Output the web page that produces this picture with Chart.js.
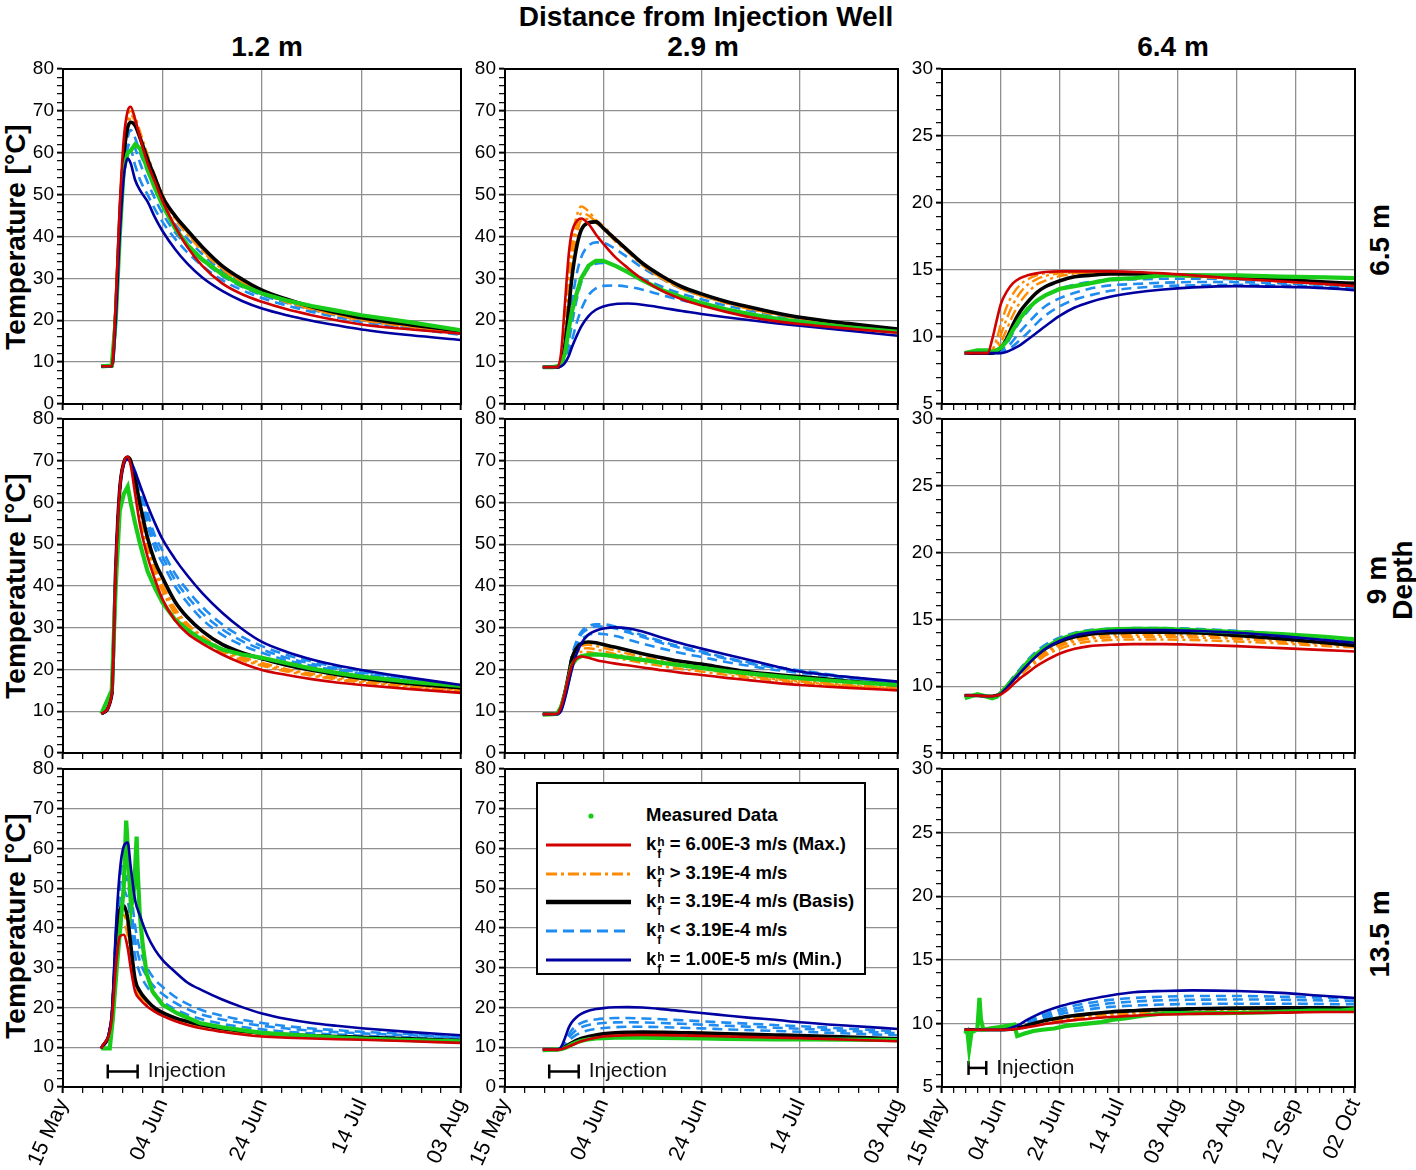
<!DOCTYPE html>
<html>
<head>
<meta charset="utf-8">
<script src="https://cdn.jsdelivr.net/npm/chart.js@4.4.0/dist/chart.umd.min.js"></script>
<style>
  body { margin: 0; background: #fff; width: 1416px; height: 1170px; position: relative; overflow: hidden;
         font-family: "Liberation Sans", Arial, sans-serif; }
  canvas { position: absolute; }
  .t { position: absolute; font-weight: bold; color: #000; white-space: nowrap; transform: translate(-50%, -50%); font-size: 28px; }
  .rot { transform: translate(-50%, -50%) rotate(-90deg); }
  .side { text-align: center; line-height: 26px; }
  #legend { position: absolute; left: 536px; top: 782px; width: 326px; height: 189px; border: 2px solid #000; background: #fff; z-index: 5; }
  #legend .row { position: absolute; left: 0; height: 28px; width: 100%; }
  #legend svg { position: absolute; left: 8px; top: 9px; }
  #legend .lab { position: absolute; left: 108px; top: 3px; font-weight: bold; font-size: 18.5px; white-space: nowrap; }
  .ss { display: inline-block; vertical-align: -8px; font-size: 12px; line-height: 12px; margin: 0 5px 0 1px; }
  .ss i { display: block; font-style: normal; }
</style>
</head>
<body>
<div class="t" style="left:706px;top:17px">Distance from Injection Well</div>
<div class="t" style="left:267px;top:47px">1.2 m</div>
<div class="t" style="left:703px;top:47px">2.9 m</div>
<div class="t" style="left:1173px;top:47px">6.4 m</div>

<div class="t rot" style="left:16px;top:237px">Temperature [°C]</div>
<div class="t rot" style="left:16px;top:586px">Temperature [°C]</div>
<div class="t rot" style="left:16px;top:926px">Temperature [°C]</div>

<div class="t rot" style="left:1380px;top:240px">6.5 m</div>
<div class="t rot side" style="left:1390px;top:580px">9 m<br>Depth</div>
<div class="t rot" style="left:1380px;top:934px">13.5 m</div>

<div id="legend">
  <div class="row" style="top:17px">
    <svg width="90" height="12"><circle cx="45" cy="6" r="2.6" fill="#19cc19"/></svg>
    <span class="lab">Measured Data</span>
  </div>
  <div class="row" style="top:46px">
    <svg width="90" height="12"><line x1="0" y1="6" x2="85" y2="6" stroke="#d00000" stroke-width="3"/></svg>
    <span class="lab">k<span class="ss"><i>h</i><i>f</i></span>= 6.00E-3 m/s (Max.)</span>
  </div>
  <div class="row" style="top:75px">
    <svg width="90" height="12"><line x1="0" y1="6" x2="85" y2="6" stroke="#ff8a00" stroke-width="3" stroke-dasharray="11 4 3 4"/></svg>
    <span class="lab">k<span class="ss"><i>h</i><i>f</i></span>&gt; 3.19E-4 m/s</span>
  </div>
  <div class="row" style="top:103px">
    <svg width="90" height="12"><line x1="0" y1="6" x2="85" y2="6" stroke="#000" stroke-width="4.5"/></svg>
    <span class="lab">k<span class="ss"><i>h</i><i>f</i></span>= 3.19E-4 m/s (Basis)</span>
  </div>
  <div class="row" style="top:132px">
    <svg width="90" height="12"><line x1="0" y1="6" x2="85" y2="6" stroke="#1e8cf0" stroke-width="3" stroke-dasharray="11 6"/></svg>
    <span class="lab">k<span class="ss"><i>h</i><i>f</i></span>&lt; 3.19E-4 m/s</span>
  </div>
  <div class="row" style="top:161px">
    <svg width="90" height="12"><line x1="0" y1="6" x2="85" y2="6" stroke="#0000a0" stroke-width="3"/></svg>
    <span class="lab">k<span class="ss"><i>h</i><i>f</i></span>= 1.00E-5 m/s (Min.)</span>
  </div>
</div>

<script>
// days after 15 May
const daysA = [7.7, 9.8, 10.6, 11.4, 12.2, 13.0, 13.6, 14.5, 15.5, 17, 18.5, 20, 22.5, 25, 28, 32, 36, 40, 45, 50, 55, 60, 70, 80];
const daysB = [7.7, 12, 15.5, 17, 18.5, 20, 22, 24, 26.5, 29, 32, 35, 40, 45, 50, 57, 65, 75, 85, 100, 115, 130, 140];
const dateTicksA = ['15 May', '04 Jun', '24 Jun', '14 Jul', '03 Aug'];
const dateTicksB = ['15 May', '04 Jun', '24 Jun', '14 Jul', '03 Aug', '23 Aug', '12 Sep', '02 Oct'];
const injDays = [9, 15];
const injLevelA = [3.9, 3.9];
const injLevelB = [6.5, 6.5];

// 1.2 m / 6.5 m
const p1Max   = [9, 9, 24, 47, 63, 70, 71, 68, 63.5, 57.5, 53, 48.5, 42.5, 37.5, 33, 28.8, 26.2, 24.4, 22.6, 21.2, 20, 19, 17.8, 16.8];
const p1Hi1   = [9, 9, 23, 46, 61, 68.5, 70, 68.5, 65, 59.5, 54.5, 50, 44.8, 41, 37, 32.6, 29.4, 26.9, 24.7, 22.9, 21.5, 20.3, 18.6, 17.2];
const p1Hi2   = [9, 9, 23, 45, 60, 67.5, 69, 67.5, 64, 59, 54, 49.5, 44.5, 40.8, 36.8, 32.4, 29.2, 26.7, 24.5, 22.7, 21.3, 20.1, 18.5, 17.1];
const p1Hi3   = [9, 9, 22, 44.5, 59.5, 67, 68, 67, 63.5, 58.5, 53.5, 49, 44.2, 40.5, 36.5, 32.2, 29, 26.5, 24.3, 22.6, 21.2, 20, 18.4, 17];
const p1Basis = [9, 9, 22, 44, 59, 66, 67.3, 66.5, 63.5, 58.5, 54, 49.5, 45, 41.5, 37.5, 33, 29.8, 27.2, 25, 23.2, 21.8, 20.6, 18.9, 17.4];
const p1Lo1   = [9, 9, 22, 43, 57, 63.5, 65.4, 63.5, 60, 55.5, 51.5, 47.5, 43, 39.5, 35.8, 31.8, 28.9, 26.7, 24.6, 22.9, 21.5, 20.3, 18.6, 17.1];
const p1Lo2   = [9, 9, 21, 42, 55, 61, 62.5, 61, 57.5, 53, 49, 45.5, 41, 37.8, 34.3, 30.6, 28, 26, 24.1, 22.5, 21.1, 20, 18.3, 16.8];
const p1Lo3   = [9, 9, 21, 41, 54, 59.5, 60.5, 57, 53.5, 50, 46.5, 43.5, 39.5, 36.2, 33, 29.6, 27.2, 25.3, 23.5, 22, 20.7, 19.6, 18, 16.5];
const p1Min   = [9, 9, 20, 40, 54, 58.6, 57.5, 53.5, 51, 48.3, 44.5, 41.3, 37, 33.5, 30.2, 27, 24.6, 22.8, 21.2, 19.9, 18.8, 17.8, 16.4, 15.3];
const p1Meas  = [9, 9.2, 20, 40, 56, 60, 60.5, 62, 61, 56, 51.5, 47.5, 42, 38, 34.5, 31, 28.3, 26.4, 24.7, 23.4, 22.3, 21.2, 19.5, 17.6];

// 2.9 m / 6.5 m
const p2Max   = [8.8, 8.8, 8.8, 12, 24, 36, 41, 43.5, 44.3, 43, 40.5, 38.3, 35, 32.5, 29.8, 27, 25, 23.5, 22, 20.7, 19.8, 19.1, 18, 17];
const p2Hi1   = [8.8, 8.8, 8.8, 11, 20, 32, 39, 44.5, 47.2, 46, 44, 42.5, 39.5, 36.7, 33.5, 30.2, 27.8, 26, 24.3, 22.8, 21.6, 20.6, 19.1, 17.8];
const p2Hi2   = [8.8, 8.8, 8.8, 10.5, 18, 29, 36, 42, 45.5, 45, 43.5, 42, 39, 36.5, 33.3, 30, 27.6, 25.9, 24.2, 22.7, 21.5, 20.5, 19, 17.7];
const p2Hi3   = [8.8, 8.8, 8.8, 10, 16, 26, 33, 39.5, 43.8, 44.2, 43.3, 41.8, 38.8, 36.3, 33.1, 29.9, 27.5, 25.8, 24.1, 22.6, 21.4, 20.4, 18.9, 17.6];
const p2Basis = [8.8, 8.8, 8.8, 9.5, 14, 23, 30, 37, 41.5, 43.3, 43.5, 42, 39.3, 36.7, 33.6, 30.5, 28, 26.3, 24.5, 23.1, 21.8, 20.7, 19.2, 17.9];
const p2Lo1   = [8.8, 8.8, 8.8, 9.3, 12, 18, 24, 30.5, 35, 37.8, 38.6, 38.5, 37, 35, 32.5, 29.8, 27.5, 25.9, 24.2, 22.8, 21.6, 20.5, 19, 17.7];
const p2Lo2   = [8.8, 8.8, 8.8, 9.2, 11, 15, 19, 24.5, 29, 32.5, 33.5, 33.7, 33, 31.8, 30, 28, 26.3, 25, 23.5, 22.3, 21.2, 20.2, 18.8, 17.5];
const p2Lo3   = [8.8, 8.8, 8.8, 9.1, 10, 12.5, 15, 19, 22.5, 26, 27.6, 28.2, 28.3, 28, 27.3, 26, 24.8, 23.8, 22.6, 21.6, 20.6, 19.8, 18.5, 17.3];
const p2Min   = [8.8, 8.8, 8.8, 9, 9.8, 11.5, 13.5, 16, 18.5, 21, 22.5, 23.3, 23.9, 24, 23.7, 23, 22.2, 21.5, 20.7, 20, 19.3, 18.7, 17.5, 16.3];
const p2Meas  = [8.8, 8.8, 9, 9.5, 12, 18, 22, 26, 30, 33, 34.2, 34.2, 33, 31.5, 29.5, 27.2, 25.5, 24.1, 22.6, 21.4, 20.4, 19.6, 18.3, 17.2];

// 6.4 m / 6.5 m
const p3Max   = [8.8, 8.8, 8.8, 9.8, 11.2, 12.5, 13.4, 14, 14.4, 14.6, 14.75, 14.85, 14.9, 14.9, 14.9, 14.9, 14.85, 14.75, 14.6, 14.35, 14.15, 13.95, 13.8];
const p3Hi1   = [8.8, 8.8, 8.8, 9.0, 9.8, 11, 12.3, 13.2, 13.9, 14.3, 14.6, 14.75, 14.85, 14.85, 14.85, 14.85, 14.8, 14.7, 14.55, 14.35, 14.15, 13.95, 13.8];
const p3Hi2   = [8.8, 8.8, 8.8, 8.9, 9.3, 10.2, 11.4, 12.4, 13.3, 13.9, 14.3, 14.55, 14.75, 14.8, 14.8, 14.8, 14.75, 14.65, 14.5, 14.35, 14.15, 13.95, 13.8];
const p3Hi3   = [8.8, 8.8, 8.8, 8.85, 9.0, 9.6, 10.6, 11.6, 12.6, 13.3, 13.9, 14.2, 14.55, 14.7, 14.75, 14.75, 14.75, 14.65, 14.55, 14.4, 14.2, 14.0, 13.85];
const p3Basis = [8.8, 8.8, 8.8, 8.8, 8.9, 9.2, 9.9, 10.9, 11.9, 12.6, 13.3, 13.75, 14.2, 14.5, 14.6, 14.7, 14.7, 14.65, 14.6, 14.5, 14.3, 14.1, 14.0];
const p3Lo1   = [8.8, 8.8, 8.8, 8.8, 8.85, 9.0, 9.5, 10.3, 11.2, 11.9, 12.6, 13.1, 13.6, 13.9, 14.1, 14.25, 14.3, 14.35, 14.35, 14.3, 14.2, 14.05, 13.95];
const p3Lo2   = [8.8, 8.8, 8.8, 8.8, 8.8, 8.9, 9.2, 9.7, 10.4, 11.0, 11.7, 12.3, 12.9, 13.3, 13.6, 13.85, 13.95, 14.05, 14.1, 14.1, 14.0, 13.9, 13.8];
const p3Lo3   = [8.8, 8.8, 8.8, 8.8, 8.8, 8.85, 9.0, 9.3, 9.8, 10.3, 11.0, 11.6, 12.3, 12.8, 13.1, 13.45, 13.65, 13.8, 13.85, 13.9, 13.85, 13.75, 13.65];
const p3Min   = [8.8, 8.8, 8.8, 8.8, 8.8, 8.8, 8.9, 9.1, 9.4, 9.8, 10.3, 10.8, 11.6, 12.2, 12.6, 13.0, 13.3, 13.55, 13.7, 13.8, 13.75, 13.65, 13.5];
const p3Meas  = [8.8, 9.0, 9.0, 8.9, 9.0, 9.2, 9.7, 10.5, 11.4, 12.1, 12.7, 13.1, 13.6, 13.8, 14.0, 14.3, 14.4, 14.6, 14.6, 14.6, 14.5, 14.45, 14.4];

// 1.2 m / 9 m
const p4Max   = [9.4, 14, 44, 63, 69.5, 71, 69, 62, 54.5, 47, 41.5, 36.8, 31.8, 28.6, 26.2, 23.6, 21.5, 19.9, 18.7, 17.7, 16.9, 16.3, 15.3, 14.4];
const p4Hi1   = [9.4, 14, 44, 63, 69.5, 71, 69.5, 63.5, 57, 49, 43.5, 39.5, 34, 30.5, 27.5, 24.6, 22.6, 21.2, 19.8, 18.7, 17.8, 17.1, 16, 15];
const p4Hi2   = [9.4, 14, 44, 63, 69.5, 71, 69.3, 63, 56.3, 48.3, 42.8, 38.8, 33.3, 29.9, 27, 24.2, 22.2, 20.9, 19.5, 18.5, 17.6, 16.9, 15.8, 14.9];
const p4Hi3   = [9.4, 14, 44, 63, 69.5, 71, 69.7, 64, 57.8, 49.8, 44.3, 40.3, 34.7, 31, 28, 25, 23, 21.6, 20.1, 19, 18.1, 17.4, 16.2, 15.1];
const p4Basis = [9.4, 14, 44, 63, 69.5, 70.8, 70, 65.5, 59.5, 51.5, 45.8, 42, 36.3, 32.5, 29.2, 26, 24, 22.6, 21, 19.8, 18.8, 17.9, 16.6, 15.6];
const p4Lo1   = [9.4, 14, 44, 63, 69.5, 70.8, 70, 66.5, 61.5, 54.5, 49, 45.5, 40, 36, 32, 28.3, 25.8, 24.0, 22.2, 20.9, 19.8, 18.9, 17.3, 15.9];
const p4Lo2   = [9.4, 14, 44, 63, 69.5, 70.8, 70, 67, 62.5, 56, 50.5, 47, 41.5, 37.5, 33.5, 29.6, 26.8, 24.8, 22.8, 21.4, 20.2, 19.3, 17.6, 16.0];
const p4Lo3   = [9.4, 14, 44, 63, 69.5, 70.6, 70, 67.5, 63.5, 57.5, 52, 48.5, 43, 39, 35, 30.8, 27.8, 25.6, 23.5, 21.9, 20.6, 19.6, 17.8, 16.1];
const p4Min   = [9.4, 14, 44, 63, 69, 70.3, 69.5, 67.3, 64.1, 59.3, 55, 51.2, 46.5, 42.5, 38.3, 33.6, 29.7, 26.6, 24.2, 22.4, 21, 19.9, 18, 16.3];
const p4Meas  = [9.4, 15, 40, 58, 62, 63.8, 60, 55, 50, 43.5, 39.5, 36, 32, 29.5, 27, 24.8, 23.6, 22.8, 21.5, 20.2, 19.2, 18.3, 17, 16.1];

// 2.9 m / 9 m
const p5Max   = [9.3, 9.3, 9.4, 11, 14.5, 18.5, 21, 22.6, 23.1, 22.8, 22.3, 21.9, 21.4, 21, 20.5, 19.8, 19.2, 18.7, 18, 17.4, 16.8, 16.3, 15.6, 15];
const p5Hi1   = [9.3, 9.3, 9.4, 11, 14.5, 18.5, 21.5, 23.5, 24.2, 24.2, 23.8, 23.4, 22.8, 22.2, 21.6, 20.8, 20.1, 19.5, 18.7, 18, 17.4, 16.8, 15.9, 15.3];
const p5Hi2   = [9.3, 9.3, 9.4, 11, 14.5, 18.7, 22, 24.1, 24.9, 25.1, 24.8, 24.4, 23.7, 23.1, 22.4, 21.5, 20.7, 20.1, 19.2, 18.4, 17.7, 17.1, 16.1, 15.5];
const p5Hi3   = [9.3, 9.3, 9.4, 11, 14.5, 19, 22.4, 24.6, 25.6, 25.9, 25.6, 25.2, 24.5, 23.8, 23, 22.1, 21.2, 20.5, 19.6, 18.8, 18, 17.4, 16.3, 15.7];
const p5Basis = [9.3, 9.3, 9.4, 11, 14.5, 19, 22.6, 25, 26.2, 26.6, 26.4, 26, 25.3, 24.6, 23.8, 22.8, 21.9, 21.3, 20.3, 19.4, 18.8, 18.3, 17.2, 16.3];
const p5Lo1   = [9.3, 9.3, 9.4, 11, 14.5, 19, 22.8, 25.6, 27.2, 28.3, 28.6, 28.5, 28, 27.2, 26.2, 25, 23.9, 23, 21.8, 20.8, 19.9, 19.2, 17.8, 16.6];
const p5Lo2   = [9.3, 9.3, 9.4, 11, 14.5, 19.2, 23, 26.2, 28.4, 29.8, 30.3, 30.3, 29.8, 28.9, 27.8, 26.3, 25.1, 24, 22.6, 21.4, 20.4, 19.6, 18.1, 16.8];
const p5Lo3   = [9.3, 9.3, 9.4, 11, 14.5, 19.3, 23.2, 26.6, 29, 30.4, 30.8, 30.8, 30.3, 29.4, 28.2, 26.7, 25.4, 24.3, 22.8, 21.6, 20.6, 19.8, 18.2, 16.9];
const p5Min   = [9.3, 9.3, 9.3, 10, 13, 17, 20, 23.5, 26.2, 28.4, 29.3, 29.8, 30.1, 29.9, 29.1, 27.6, 26.2, 25, 23.6, 22.2, 20.8, 19.5, 18.2, 17.1];
const p5Meas  = [9.2, 9.3, 9.4, 11, 14, 18, 21, 22.5, 23.2, 23.5, 23.6, 23.5, 23.2, 22.8, 22.3, 21.6, 21, 20.4, 19.6, 19, 18.4, 17.9, 17, 16.3];

// 6.4 m / 9 m
const p6Max   = [9.3, 9.3, 9.25, 9.25, 9.3, 9.4, 9.7, 10.1, 10.6, 11.0, 11.5, 11.9, 12.45, 12.8, 13.0, 13.1, 13.15, 13.15, 13.1, 13.0, 12.85, 12.7, 12.6];
const p6Hi1   = [9.3, 9.3, 9.25, 9.25, 9.3, 9.45, 9.8, 10.3, 10.8, 11.3, 11.8, 12.3, 12.8, 13.15, 13.35, 13.45, 13.5, 13.5, 13.45, 13.35, 13.2, 13.0, 12.9];
const p6Hi2   = [9.3, 9.3, 9.25, 9.25, 9.3, 9.5, 9.85, 10.35, 10.9, 11.45, 12.0, 12.45, 13.0, 13.35, 13.55, 13.65, 13.7, 13.7, 13.65, 13.55, 13.35, 13.15, 13.0];
const p6Hi3   = [9.3, 9.3, 9.25, 9.25, 9.3, 9.5, 9.9, 10.4, 11.0, 11.55, 12.15, 12.6, 13.15, 13.5, 13.7, 13.8, 13.85, 13.85, 13.8, 13.7, 13.5, 13.3, 13.1];
const p6Basis = [9.3, 9.3, 9.25, 9.25, 9.3, 9.5, 9.95, 10.5, 11.1, 11.7, 12.3, 12.8, 13.35, 13.7, 13.9, 14.0, 14.05, 14.05, 14.0, 13.8, 13.55, 13.25, 13.05];
const p6Lo1   = [9.3, 9.3, 9.25, 9.25, 9.3, 9.5, 10.0, 10.55, 11.2, 11.8, 12.45, 12.95, 13.5, 13.85, 14.05, 14.15, 14.2, 14.2, 14.15, 14.0, 13.75, 13.5, 13.3];
const p6Lo2   = [9.3, 9.3, 9.25, 9.25, 9.3, 9.5, 10.0, 10.6, 11.25, 11.9, 12.55, 13.05, 13.6, 13.95, 14.15, 14.25, 14.3, 14.3, 14.25, 14.1, 13.85, 13.6, 13.4];
const p6Lo3   = [9.3, 9.3, 9.25, 9.25, 9.3, 9.5, 10.05, 10.65, 11.3, 11.95, 12.6, 13.1, 13.65, 14.0, 14.2, 14.3, 14.35, 14.35, 14.3, 14.15, 13.9, 13.65, 13.45];
const p6Min   = [9.3, 9.3, 9.25, 9.25, 9.3, 9.45, 9.9, 10.4, 11.0, 11.6, 12.25, 12.8, 13.4, 13.8, 14.0, 14.15, 14.2, 14.2, 14.15, 14.0, 13.75, 13.45, 13.25];
const p6Meas  = [9.1, 9.4, 9.2, 9.1, 9.2, 9.5, 10.0, 10.5, 11.1, 11.8, 12.4, 12.9, 13.5, 13.9, 14.1, 14.25, 14.3, 14.3, 14.2, 14.05, 13.9, 13.7, 13.5];

// 1.2 m / 13.5 m
const p7Max   = [9.7, 17, 30, 37.8, 38.3, 35, 30, 24, 22, 20.2, 18.9, 17.9, 16.6, 15.6, 14.7, 13.9, 13.2, 12.7, 12.4, 12.2, 12.0, 11.9, 11.5, 11.1];
const p7Hi1   = [9.7, 17, 32, 40, 41, 38, 32.5, 25.2, 22.6, 20.7, 19.3, 18.3, 17, 16, 15.1, 14.2, 13.5, 13.0, 12.7, 12.4, 12.2, 12.1, 11.7, 11.3];
const p7Hi2   = [9.7, 17, 33, 42, 43.2, 40, 34, 26, 23.1, 21.1, 19.6, 18.6, 17.2, 16.2, 15.3, 14.4, 13.7, 13.2, 12.8, 12.5, 12.3, 12.2, 11.8, 11.4];
const p7Hi3   = [9.7, 17, 33.5, 43.5, 44.5, 41.5, 35.5, 26.8, 23.6, 21.4, 19.9, 18.9, 17.5, 16.4, 15.5, 14.6, 13.9, 13.4, 13.0, 12.7, 12.5, 12.3, 11.9, 11.5];
const p7Basis = [9.7, 17, 34, 44.5, 45.6, 42.5, 36, 27, 24, 21.6, 19.8, 18.7, 17.4, 16.5, 15.6, 14.7, 14.1, 13.6, 13.2, 12.9, 12.7, 12.5, 12.1, 11.7];
const p7Lo1   = [9.7, 18, 36, 47, 49.5, 47, 42, 33, 28.5, 25, 23, 21.5, 19.6, 18.2, 17, 15.9, 15.1, 14.5, 13.9, 13.5, 13.2, 12.9, 12.5, 12.2];
const p7Lo2   = [9.7, 18, 37, 50, 53.5, 51.5, 46, 37, 31.5, 27.5, 25, 23.4, 21.2, 19.6, 18.2, 17, 16.1, 15.4, 14.7, 14.2, 13.8, 13.5, 13, 12.5];
const p7Lo3   = [9.7, 18, 38, 52, 57, 55.5, 50, 40.5, 34.5, 29.8, 27, 25.2, 22.7, 20.9, 19.3, 17.9, 16.9, 16.1, 15.3, 14.7, 14.3, 13.9, 13.3, 12.8];
const p7Min   = [9.7, 18, 39, 54, 60.5, 61.5, 55.5, 47, 43, 38, 34.5, 32, 29, 26.3, 24.3, 22, 20.1, 18.5, 17.1, 16.1, 15.4, 14.8, 13.8, 13];
const p7MeasDays = [7.7, 9.4, 10, 10.8, 11.5, 12.2, 12.7, 12.9, 13.2, 13.7, 14.3, 14.8, 15.0, 15.4, 16.0, 16.8, 18, 20, 23, 27.5, 32, 40, 50, 60, 70, 80];
const p7Meas  = [9.7, 9.7, 17, 30, 40, 50, 67, 63, 55, 45, 50, 63, 55, 44, 36, 28.6, 24, 20.7, 18.5, 16.1, 15, 13.6, 12.8, 12.2, 11.8, 11.5];

// 2.9 m / 13.5 m
const p8Max   = [9.4, 9.4, 9.4, 9.5, 9.8, 10.2, 10.5, 11, 11.5, 12, 12.4, 12.7, 12.9, 13.05, 13.1, 13.05, 12.95, 12.85, 12.7, 12.55, 12.4, 12.3, 11.9, 11.5];
const p8Hi1   = [9.4, 9.4, 9.4, 9.5, 9.9, 10.4, 10.8, 11.3, 11.8, 12.3, 12.7, 13.0, 13.2, 13.3, 13.35, 13.3, 13.2, 13.1, 12.95, 12.8, 12.65, 12.5, 12.1, 11.7];
const p8Hi2   = [9.4, 9.4, 9.4, 9.5, 10, 10.5, 10.9, 11.4, 11.9, 12.4, 12.8, 13.1, 13.35, 13.45, 13.5, 13.45, 13.35, 13.25, 13.1, 12.95, 12.8, 12.65, 12.25, 11.85];
const p8Hi3   = [9.4, 9.4, 9.4, 9.55, 10.05, 10.6, 11, 11.55, 12.05, 12.55, 12.95, 13.25, 13.5, 13.6, 13.65, 13.6, 13.5, 13.4, 13.25, 13.1, 12.95, 12.8, 12.4, 12];
const p8Basis = [9.4, 9.4, 9.4, 9.6, 10.1, 10.7, 11.1, 11.7, 12.2, 12.7, 13.1, 13.4, 13.65, 13.75, 13.8, 13.75, 13.65, 13.55, 13.4, 13.25, 13.1, 12.95, 12.55, 12.1];
const p8Lo1   = [9.4, 9.4, 9.4, 9.7, 10.6, 11.6, 12.3, 13.1, 13.7, 14.3, 14.6, 14.85, 15.05, 15.15, 15.15, 15.05, 14.9, 14.75, 14.5, 14.3, 14.1, 13.9, 13.45, 13];
const p8Lo2   = [9.4, 9.4, 9.4, 9.8, 11, 12.4, 13.3, 14.3, 15, 15.6, 15.9, 16.1, 16.25, 16.3, 16.25, 16.1, 15.9, 15.7, 15.4, 15.15, 14.9, 14.65, 14.1, 13.5];
const p8Lo3   = [9.4, 9.4, 9.4, 9.9, 11.5, 13.2, 14.3, 15.4, 16.1, 16.7, 17, 17.2, 17.35, 17.35, 17.25, 17.05, 16.8, 16.55, 16.2, 15.9, 15.6, 15.3, 14.65, 14];
const p8Min   = [9.4, 9.4, 9.4, 10, 12.3, 15, 16.3, 17.5, 18.4, 19.2, 19.6, 19.85, 20.05, 20.1, 20, 19.6, 19.1, 18.6, 18, 17.4, 16.9, 16.3, 15.4, 14.6];
const p8Meas  = [9.3, 9.4, 9.5, 9.5, 9.8, 10.3, 10.7, 11.2, 11.6, 12, 12.2, 12.3, 12.4, 12.45, 12.4, 12.35, 12.3, 12.2, 12.1, 12.05, 12, 11.95, 11.9, 11.8];

// 6.4 m / 13.5 m
const p9Max   = [9.5, 9.5, 9.5, 9.5, 9.5, 9.5, 9.5, 9.53, 9.6, 9.7, 9.82, 9.95, 10.12, 10.26, 10.37, 10.5, 10.6, 10.7, 10.75, 10.8, 10.85, 10.9, 10.9];
const p9Hi1   = [9.5, 9.5, 9.5, 9.5, 9.5, 9.5, 9.51, 9.54, 9.62, 9.75, 9.9, 10.04, 10.23, 10.4, 10.52, 10.64, 10.74, 10.84, 10.9, 10.95, 11.0, 11.0, 11.0];
const p9Hi2   = [9.5, 9.5, 9.5, 9.5, 9.5, 9.5, 9.51, 9.55, 9.64, 9.78, 9.95, 10.1, 10.3, 10.47, 10.6, 10.73, 10.83, 10.93, 10.98, 11.03, 11.07, 11.08, 11.08];
const p9Hi3   = [9.5, 9.5, 9.5, 9.5, 9.5, 9.5, 9.52, 9.56, 9.66, 9.82, 10.0, 10.16, 10.38, 10.55, 10.68, 10.82, 10.92, 11.02, 11.07, 11.12, 11.15, 11.15, 11.15];
const p9Basis = [9.5, 9.5, 9.5, 9.5, 9.5, 9.5, 9.52, 9.57, 9.68, 9.85, 10.05, 10.22, 10.45, 10.62, 10.75, 10.9, 11.0, 11.1, 11.15, 11.2, 11.22, 11.22, 11.2];
const p9Lo1   = [9.5, 9.5, 9.5, 9.5, 9.5, 9.5, 9.53, 9.6, 9.73, 9.95, 10.2, 10.42, 10.73, 10.95, 11.12, 11.3, 11.4, 11.48, 11.53, 11.55, 11.55, 11.52, 11.5];
const p9Lo2   = [9.5, 9.5, 9.5, 9.5, 9.5, 9.5, 9.54, 9.62, 9.78, 10.05, 10.33, 10.58, 10.92, 11.17, 11.37, 11.58, 11.72, 11.82, 11.86, 11.88, 11.86, 11.8, 11.75];
const p9Lo3   = [9.5, 9.5, 9.5, 9.5, 9.5, 9.5, 9.55, 9.65, 9.85, 10.15, 10.45, 10.72, 11.1, 11.4, 11.62, 11.85, 12.0, 12.1, 12.15, 12.15, 12.1, 12.02, 11.95];
const p9Min   = [9.5, 9.5, 9.5, 9.5, 9.5, 9.5, 9.55, 9.7, 9.95, 10.3, 10.65, 10.95, 11.35, 11.65, 11.9, 12.2, 12.45, 12.55, 12.6, 12.55, 12.4, 12.15, 12.0];
const p9MeasDays = [7.7, 8.6, 9.2, 10, 11, 12, 12.7, 13.2, 14, 16, 19, 22, 24.5, 25.5, 28, 31, 34, 38, 42, 46, 50, 54, 58, 62, 68, 76, 85, 95, 105, 115, 125, 135, 140];
const p9Meas  = [9.2, 9.4, 8.0, 9.3, 9.4, 9.6, 12.0, 10.3, 9.5, 9.6, 9.7, 9.8, 9.9, 9.0, 9.2, 9.4, 9.5, 9.6, 9.8, 9.9, 10.0, 10.1, 10.3, 10.4, 10.6, 10.8, 10.8, 10.8, 10.85, 10.9, 11.0, 11.0, 11.1];

Chart.defaults.font.family = "'Liberation Sans', Arial, sans-serif";
Chart.defaults.color = '#000';

const RED = '#d00000', ORANGE = '#ff8a00', BLUE = '#1e8cf0', NAVY = '#0000a0', GREEN = '#19cc19';

function pts(days, vals) {
  return vals.map((v, i) => ({ x: days[i], y: v }));
}

function line(data, color, width, dash) {
  return { data, borderColor: color, borderWidth: width, borderDash: dash || [], pointRadius: 0,
           fill: false, cubicInterpolationMode: 'monotone' };
}

// outline around each plot area
const frame = {
  id: 'frame',
  afterDatasetsDraw(chart) {
    const a = chart.chartArea, c = chart.ctx;
    c.save();
    c.strokeStyle = '#000';
    c.lineWidth = 2;
    c.strokeRect(a.left, a.top, a.right - a.left, a.bottom - a.top);
    c.restore();
  }
};

const injLabel = {
  id: 'injLabel',
  afterDatasetsDraw(chart, args, opts) {
    if (opts.y == null) return;
    const c = chart.ctx;
    c.save();
    c.font = "21px 'Liberation Sans', Arial, sans-serif";
    c.fillStyle = '#111';
    c.textBaseline = 'middle';
    c.fillText('Injection', chart.scales.x.getPixelForValue(injDays[1]) + 10, chart.scales.y.getPixelForValue(opts.y));
    c.restore();
  }
};

const cols = [
  { left: 63, w: 398, xMax: 80, ticks: dateTicksA, ymin: 0, ymax: 80, ystep: 2, ymajor: 10 },
  { left: 505, w: 393, xMax: 80, ticks: dateTicksA, ymin: 0, ymax: 80, ystep: 2, ymajor: 10 },
  { left: 942, w: 413, xMax: 140, ticks: dateTicksB, ymin: 5, ymax: 30, ystep: 1, ymajor: 5 }
];
const rows = [{ top: 69, h: 335 }, { top: 419, h: 334 }, { top: 769, h: 318 }];

const panels = [
  { r: 0, c: 0, days: daysA, s: [p1Max, p1Hi1, p1Hi2, p1Hi3, p1Basis, p1Lo1, p1Lo2, p1Lo3, p1Min], meas: p1Meas },
  { r: 0, c: 1, days: daysA, s: [p2Max, p2Hi1, p2Hi2, p2Hi3, p2Basis, p2Lo1, p2Lo2, p2Lo3, p2Min], meas: p2Meas },
  { r: 0, c: 2, days: daysB, s: [p3Max, p3Hi1, p3Hi2, p3Hi3, p3Basis, p3Lo1, p3Lo2, p3Lo3, p3Min], meas: p3Meas },
  { r: 1, c: 0, days: daysA, s: [p4Max, p4Hi1, p4Hi2, p4Hi3, p4Basis, p4Lo1, p4Lo2, p4Lo3, p4Min], meas: p4Meas },
  { r: 1, c: 1, days: daysA, s: [p5Max, p5Hi1, p5Hi2, p5Hi3, p5Basis, p5Lo1, p5Lo2, p5Lo3, p5Min], meas: p5Meas },
  { r: 1, c: 2, days: daysB, s: [p6Max, p6Hi1, p6Hi2, p6Hi3, p6Basis, p6Lo1, p6Lo2, p6Lo3, p6Min], meas: p6Meas },
  { r: 2, c: 0, days: daysA, s: [p7Max, p7Hi1, p7Hi2, p7Hi3, p7Basis, p7Lo1, p7Lo2, p7Lo3, p7Min], meas: p7Meas, measDays: p7MeasDays, inj: injLevelA },
  { r: 2, c: 1, days: daysA, s: [p8Max, p8Hi1, p8Hi2, p8Hi3, p8Basis, p8Lo1, p8Lo2, p8Lo3, p8Min], meas: p8Meas, inj: injLevelA },
  { r: 2, c: 2, days: daysB, s: [p9Max, p9Hi1, p9Hi2, p9Hi3, p9Basis, p9Lo1, p9Lo2, p9Lo3, p9Min], meas: p9Meas, measDays: p9MeasDays, inj: injLevelB }
];

const isMult = (v, m) => Math.abs(v / m - Math.round(v / m)) < 1e-6;

panels.forEach(p => {
  const col = cols[p.c], row = rows[p.r];
  const padL = 56, padT = 14, padR = 14, padB = p.r === 2 ? 92 : 9;
  const cv = document.createElement('canvas');
  cv.width = col.w + padL + padR;
  cv.height = row.h + padT + padB;
  cv.style.left = (col.left - padL) + 'px';
  cv.style.top = (row.top - padT) + 'px';
  document.body.appendChild(cv);

  const d = p.days, s = p.s;
  const datasets = [
    line(pts(d, s[0]), RED, 2.6),
    line(pts(d, s[8]), NAVY, 2.6),
    Object.assign(line(pts(p.measDays || d, p.meas), GREEN, 4.2), { tension: 0, cubicInterpolationMode: 'default' }),
    line(pts(d, s[4]), '#000', 3.6),
    line(pts(d, s[1]), ORANGE, 2.4, [11, 4, 3, 4]),
    line(pts(d, s[2]), ORANGE, 2.4, [11, 4, 3, 4]),
    line(pts(d, s[3]), ORANGE, 2.4, [11, 4, 3, 4]),
    line(pts(d, s[5]), BLUE, 2.6, [10, 6]),
    line(pts(d, s[6]), BLUE, 2.6, [10, 6]),
    line(pts(d, s[7]), BLUE, 2.6, [10, 6])
  ];
  if (p.inj) {
    datasets.push({ data: pts(injDays, p.inj), borderColor: '#000', borderWidth: 2.5, tension: 0,
                    pointStyle: 'line', pointRotation: 90, pointRadius: 7, pointBorderWidth: 2.5, pointBorderColor: '#000' });
  }

  new Chart(cv, {
    type: 'line',
    data: { datasets },
    options: {
      responsive: false,
      animation: false,
      events: [],
      layout: { padding: { left: 0, top: padT, right: padR, bottom: 0 } },
      plugins: { legend: { display: false }, tooltip: { enabled: false }, injLabel: { y: p.inj ? p.inj[0] : null } },
      scales: {
        x: {
          type: 'linear', min: 0, max: col.xMax,
          afterFit: sc => { sc.height = padB; sc.paddingLeft = 0; sc.paddingRight = 0; },
          ticks: {
            stepSize: 4, autoSkip: false, maxTicksLimit: 100, minRotation: 66, maxRotation: 66, padding: 2,
            font: { size: 21.5 }, color: '#000',
            callback: v => (p.r === 2 && isMult(v, 20)) ? col.ticks[Math.round(v / 20)] : ''
          },
          grid: {
            color: ctx => (ctx.tick && isMult(ctx.tick.value, 20)) ? '#8f8f8f' : 'rgba(0,0,0,0)',
            lineWidth: 1.3, tickColor: '#000', tickLength: 6,
            tickWidth: ctx => (ctx.tick && isMult(ctx.tick.value, 20)) ? 2 : 1.2
          },
          border: { display: true, color: '#000', width: 2 }
        },
        y: {
          min: col.ymin, max: col.ymax,
          afterFit: sc => { sc.width = padL; sc.paddingTop = 0; sc.paddingBottom = 0; },
          ticks: {
            stepSize: col.ystep, autoSkip: false, maxTicksLimit: 100, padding: 3,
            font: { size: 19 }, color: '#000',
            callback: v => isMult(v, col.ymajor) ? v : ''
          },
          grid: {
            color: ctx => (ctx.tick && isMult(ctx.tick.value, col.ymajor)) ? '#8f8f8f' : 'rgba(0,0,0,0)',
            lineWidth: 1.3, tickColor: '#000', tickLength: 6,
            tickWidth: ctx => (ctx.tick && isMult(ctx.tick.value, col.ymajor)) ? 2 : 1.2
          },
          border: { display: true, color: '#000', width: 2 }
        }
      }
    },
    plugins: [frame, injLabel]
  });
});
</script>
</body>
</html>
